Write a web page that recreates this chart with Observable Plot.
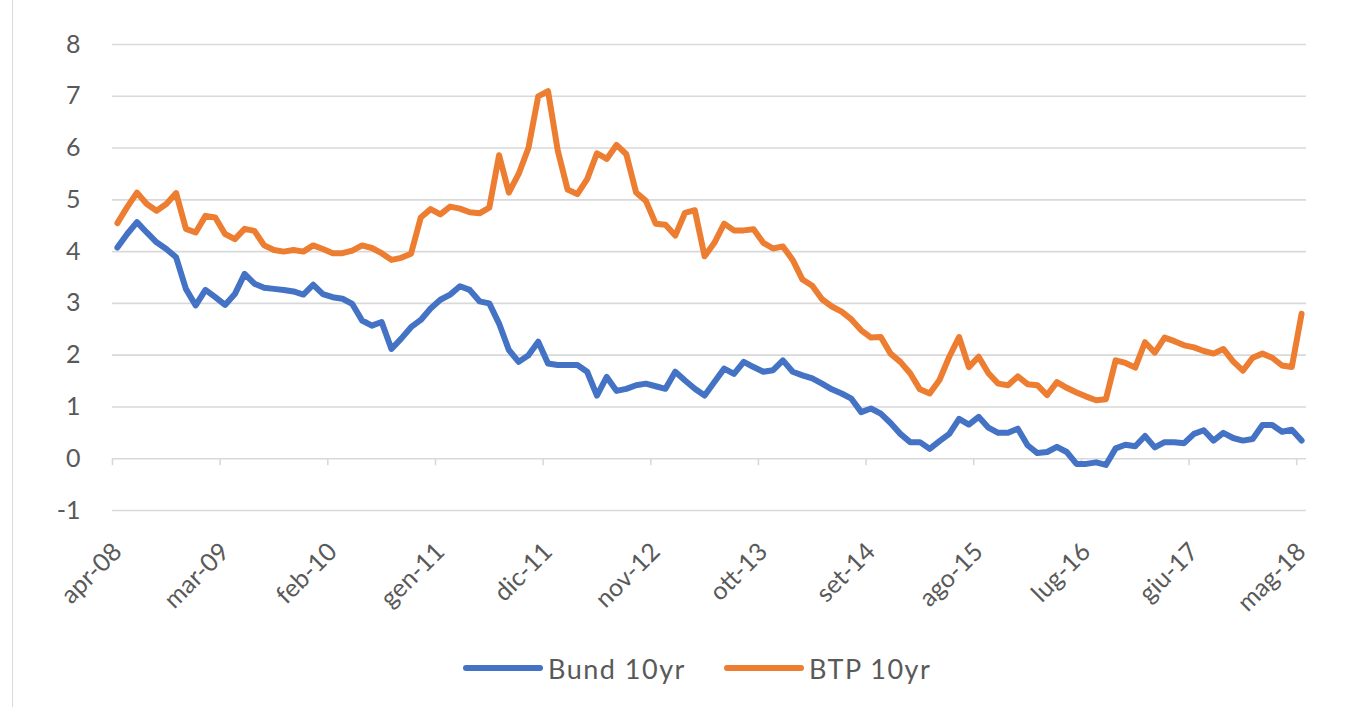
<!DOCTYPE html>
<html>
<head>
<meta charset="utf-8">
<script src="https://cdn.jsdelivr.net/npm/d3@7"></script>
<script src="https://cdn.jsdelivr.net/npm/@observablehq/plot@0.6"></script>
<style>
  html, body { margin: 0; padding: 0; background: #fff; }
  body { width: 1346px; height: 707px; position: relative; overflow: hidden; font-family: Lato, "Open Sans", sans-serif; }
  #frame { position: absolute; left: 12px; top: 0; width: 1px; height: 707px; background: #d9d9d9; }
  #chart { position: absolute; left: 0; top: 0; }
  #legend { position: absolute; left: 463px; top: 650px; height: 36px; display: flex; align-items: center; font-size: 27px; letter-spacing: 1.5px; color: #595959; white-space: nowrap; }
  .item { display: flex; align-items: center; }
  .item + .item { margin-left: 38px; }
  .swatch { width: 80px; height: 6px; border-radius: 3px; margin-right: 5px; }
</style>
</head>
<body>
<div id="frame"></div>
<div id="chart"></div>
<div id="legend"></div>
<script>
// Monthly Italian abbreviations
const monthNames = ["gen","feb","mar","apr","mag","giu","lug","ago","set","ott","nov","dic"];
// Monthly categories from apr-08 to mag-18
const months = [];
for (let y = 2008, m = 3; y < 2018 || (y === 2018 && m <= 4); m++) {
  if (m === 12) { m = 0; y++; }
  months.push(monthNames[m] + "-" + String(y % 100).padStart(2, "0"));
}

const tickLabels = ["apr-08","mar-09","feb-10","gen-11","dic-11","nov-12","ott-13","set-14","ago-15","lug-16","giu-17","mag-18"];
const yTicks = [-1, 0, 1, 2, 3, 4, 5, 6, 7, 8];

const seriesNames = ["Bund 10yr", "BTP 10yr"];
const seriesColors = ["#4472C4", "#ED7D31"];

const bund = [
  4.08, 4.34, 4.57, 4.37, 4.18, 4.05, 3.89, 3.28, 2.96, 3.26,
  3.12, 2.97, 3.18, 3.57, 3.38, 3.30, 3.28, 3.26, 3.23, 3.17,
  3.36, 3.18, 3.12, 3.09, 2.99, 2.67, 2.57, 2.64, 2.12, 2.32,
  2.54, 2.68, 2.90, 3.07, 3.17, 3.33, 3.26, 3.04, 3.00, 2.61,
  2.10, 1.87, 2.00, 2.26, 1.84, 1.81, 1.81, 1.81, 1.68, 1.22,
  1.58, 1.31, 1.35, 1.42, 1.45, 1.40, 1.35, 1.68, 1.51, 1.35,
  1.22, 1.48, 1.74, 1.64, 1.87, 1.77, 1.68, 1.71, 1.90, 1.68,
  1.61, 1.55, 1.45, 1.34, 1.26, 1.16, 0.90, 0.97, 0.87, 0.69,
  0.48, 0.32, 0.32, 0.19, 0.34, 0.48, 0.77, 0.66, 0.81, 0.60,
  0.50, 0.50, 0.58, 0.26, 0.11, 0.13, 0.23, 0.13, -0.10, -0.10,
  -0.07, -0.12, 0.20, 0.27, 0.24, 0.44, 0.22, 0.32, 0.32, 0.30,
  0.48, 0.55, 0.35, 0.50, 0.40, 0.35, 0.38, 0.65, 0.65, 0.52,
  0.56, 0.35
];

const btp = [
  4.55, 4.86, 5.14, 4.92, 4.79, 4.92, 5.13, 4.44, 4.37, 4.69,
  4.66, 4.34, 4.24, 4.44, 4.40, 4.12, 4.03, 4.00, 4.03, 4.00,
  4.12, 4.05, 3.97, 3.97, 4.02, 4.12, 4.07, 3.97, 3.84, 3.88,
  3.96, 4.66, 4.82, 4.72, 4.87, 4.83, 4.76, 4.74, 4.85, 5.86,
  5.14, 5.50, 6.00, 7.00, 7.10, 5.95, 5.20, 5.11, 5.40, 5.90,
  5.79, 6.06, 5.88, 5.14, 4.98, 4.54, 4.52, 4.31, 4.75, 4.80,
  3.91, 4.17, 4.54, 4.41, 4.41, 4.43, 4.17, 4.06, 4.10, 3.84,
  3.46, 3.34, 3.08, 2.94, 2.84, 2.69, 2.48, 2.34, 2.35, 2.03,
  1.87, 1.65, 1.34, 1.26, 1.52, 1.97, 2.35, 1.77, 1.97, 1.65,
  1.45, 1.42, 1.59, 1.44, 1.42, 1.23, 1.48, 1.37, 1.28, 1.20,
  1.13, 1.15, 1.90, 1.85, 1.76, 2.25, 2.05, 2.34, 2.27, 2.19,
  2.15, 2.08, 2.03, 2.12, 1.88, 1.70, 1.95, 2.03, 1.95, 1.80,
  1.77, 2.80
];

const rows = [];
months.forEach((m, i) => {
  rows.push({ i, month: m, series: seriesNames[0], value: bund[i] });
});
months.forEach((m, i) => {
  rows.push({ i, month: m, series: seriesNames[1], value: btp[i] });
});
const tickIdx = tickLabels.map(l => months.indexOf(l));

const chart = Plot.plot({
  width: 1346,
  height: 640,
  marginLeft: 112,
  marginRight: 40,
  marginTop: 44,
  marginBottom: 130,
  style: { fontFamily: "Lato, 'Open Sans', sans-serif", color: "#595959", background: "transparent", overflow: "visible" },
  x: { domain: [0, months.length], axis: null },
  y: { domain: [-1, 8], axis: null },
  color: { domain: seriesNames, range: seriesColors },
  marks: [
    Plot.gridY(yTicks, { stroke: "#d9d9d9", strokeOpacity: 1, strokeWidth: 1.6 }),
    Plot.axisY(yTicks, { label: null, tickSize: 0, tickPadding: 32, fontSize: 25, fill: "#595959", tickFormat: d => String(d) }),
    Plot.ruleX(tickIdx, { x: d => d, y1: 0, y2: 0, insetBottom: -7, stroke: "#d9d9d9", strokeWidth: 1.6 }),
    Plot.axisX(tickIdx, { anchor: "bottom", label: null, tickSize: 0, tickPadding: 0, tickRotate: -45, fontSize: 25, fill: "#595959", tickFormat: d => months[d], dx: 5, dy: 37 }),
    Plot.lineY(rows, { x: d => d.i + 0.5, y: "value", z: "series", stroke: "series", strokeWidth: 6, strokeLinejoin: "round", strokeLinecap: "round" })
  ]
});
document.getElementById("chart").appendChild(chart);

const legend = document.getElementById("legend");
seriesNames.forEach((name, k) => {
  const item = document.createElement("div");
  item.className = "item";
  const sw = document.createElement("div");
  sw.className = "swatch";
  sw.style.background = seriesColors[k];
  const label = document.createElement("span");
  label.textContent = name;
  item.appendChild(sw);
  item.appendChild(label);
  legend.appendChild(item);
});
</script>
</body>
</html>
